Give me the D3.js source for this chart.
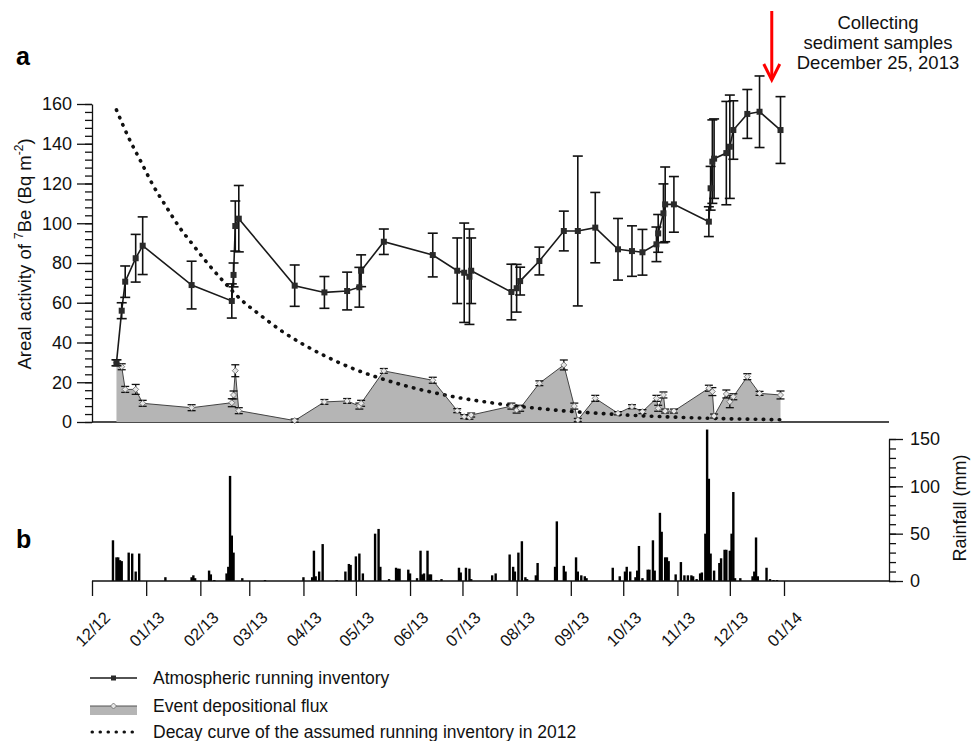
<!DOCTYPE html>
<html>
<head>
<meta charset="utf-8">
<script src="https://cdn.jsdelivr.net/npm/d3@7"></script>
<style>
  body { margin: 0; background: #fff; }
  svg { font-family: Arial, "Liberation Sans", sans-serif; }
</style>
</head>
<body>
<svg id="chart" width="978" height="741"></svg>
<script>
const parse = d3.timeParse("%Y-%m-%d");

// atmospheric running inventory of 7Be (Bq m-2)
const invDates = ["2012-12-15","2012-12-18","2012-12-20","2012-12-26","2012-12-30","2013-01-27","2013-02-19","2013-02-20","2013-02-21","2013-02-23",
  "2013-03-27","2013-04-13","2013-04-26","2013-05-03","2013-05-04","2013-05-17","2013-06-14","2013-06-28","2013-07-02","2013-07-05",
  "2013-07-06","2013-07-29","2013-08-01","2013-08-03","2013-08-14","2013-08-28","2013-09-05","2013-09-15","2013-09-28","2013-10-06",
  "2013-10-12","2013-10-20","2013-10-21","2013-10-24","2013-10-25","2013-10-30","2013-11-19","2013-11-20","2013-11-21","2013-11-22",
  "2013-11-29","2013-12-01","2013-12-03","2013-12-11","2013-12-18","2013-12-30"];
const invValues = [29.8,56,70.6,82.4,88.7,68.9,60.9,74,98.6,102.3,
  68.6,65.2,65.9,67.8,76.1,90.7,84,76.1,75.1,73.1,
  76.1,65.4,67.3,70.9,81,96.1,96.1,97.8,86.9,86,
  85.4,89.4,94.9,105,109.5,109.5,100.8,117.6,131,132.5,
  135.3,138.5,146.9,155,156.1,146.9];
const invErrors = [1.5,4,7.9,12,14.5,12,8.6,6,12.6,16.7,
  10.4,8,9.5,10,8,6.4,11,16.5,25,24,
  16.5,14,12,7,7,10,37.7,17.7,15.5,12.7,
  11.5,8.7,9.5,14.8,18.8,14,7.5,11,21,20,
  26,26,14.7,12.3,18,16.8];

// event depositional flux (Bq m-2)
const fluxDates = ["2012-12-15","2012-12-18","2012-12-20","2012-12-26","2012-12-30","2013-01-27","2013-02-19","2013-02-20","2013-02-21","2013-02-23",
  "2013-03-27","2013-04-13","2013-04-26","2013-05-03","2013-05-04","2013-05-17","2013-06-14","2013-06-28","2013-07-02","2013-07-05",
  "2013-07-06","2013-07-29","2013-08-01","2013-08-03","2013-08-14","2013-08-28","2013-09-03","2013-09-05","2013-09-15","2013-09-28",
  "2013-10-06","2013-10-12","2013-10-20","2013-10-21","2013-10-24","2013-10-25","2013-10-30","2013-11-19","2013-11-21","2013-11-22",
  "2013-11-29","2013-12-01","2013-12-03","2013-12-11","2013-12-18","2013-12-30"];
const fluxValues = [29.8,27.8,16.4,16.4,9.4,7.2,9.7,13.6,25.8,5.7,
  0.7,10.1,10.6,8,9.4,25.7,21,5.7,2.7,2.4,
  3.5,8,6,6.9,19.5,28.7,8,1,11.9,4.4,
  7.7,5.2,11.9,6.9,13.6,5.5,5.5,17,15.3,3,
  14.1,10.2,12.7,22.8,14.4,13.6];
const fluxErrors = [1.5,1.5,1.5,2.5,1.5,1.5,2,2,3,1.5,
  0.8,1.2,1.2,1.5,1.5,1.2,1.5,1,1,1,
  1,1.5,1.5,1.5,1.2,2.5,1.5,0.8,1.5,0.8,
  1,1,1.5,1.5,1.5,1,1,1.5,2,1,
  2,3,1.5,1.5,1,2];

// decay curve of the assumed running inventory in 2012
const decayDates = ["2012-12-15","2012-12-22","2012-12-29","2013-01-05","2013-01-12","2013-01-20","2013-01-27","2013-02-05","2013-02-15","2013-02-25",
  "2013-03-07","2013-03-20","2013-04-01","2013-04-15","2013-05-01","2013-05-15","2013-06-01","2013-06-15","2013-07-01","2013-07-15",
  "2013-08-01","2013-08-15","2013-09-01","2013-09-15","2013-10-01","2013-10-15","2013-11-01","2013-11-15","2013-12-01","2013-12-15","2013-12-30"];
const decayValues = [157,143,131,119,109,98,90,80,70,61,
  54,45.5,39,32.5,26.3,22,17.6,14.7,11.9,10,
  8,6.7,5.3,4.5,3.6,3,2.4,2,1.6,1.4,1.1];

// daily rainfall (mm)
const rainDates = ["2012-12-13","2012-12-15","2012-12-16","2012-12-17","2012-12-18","2012-12-22","2012-12-24","2012-12-26","2012-12-28","2013-01-12",
  "2013-01-27","2013-01-28","2013-01-29","2013-02-06","2013-02-07","2013-02-09","2013-02-16","2013-02-17","2013-02-18","2013-02-19",
  "2013-02-20","2013-02-25","2013-03-10","2013-04-01","2013-04-06","2013-04-07","2013-04-08","2013-04-10","2013-04-12","2013-04-20",
  "2013-04-25","2013-04-27","2013-04-28","2013-05-01","2013-05-03","2013-05-05","2013-05-12","2013-05-14","2013-05-15","2013-05-20",
  "2013-05-24","2013-05-25","2013-05-26","2013-05-31","2013-06-01","2013-06-05","2013-06-07","2013-06-08","2013-06-09","2013-06-11",
  "2013-06-12","2013-06-13","2013-06-16","2013-06-19","2013-06-29","2013-06-30","2013-07-03","2013-07-05","2013-07-06","2013-07-18",
  "2013-07-20","2013-07-28","2013-07-30","2013-07-31","2013-08-02","2013-08-04","2013-08-06","2013-08-07","2013-08-12","2013-08-13",
  "2013-08-23","2013-08-24","2013-08-28","2013-08-29","2013-09-04","2013-09-05","2013-09-07","2013-09-09","2013-09-10","2013-09-25",
  "2013-09-29","2013-10-02","2013-10-03","2013-10-05","2013-10-08","2013-10-09","2013-10-10","2013-10-12","2013-10-15","2013-10-16",
  "2013-10-18","2013-10-19","2013-10-22","2013-10-23","2013-10-25","2013-10-26","2013-10-27","2013-10-31","2013-11-03","2013-11-05",
  "2013-11-07","2013-11-09","2013-11-10","2013-11-12","2013-11-14","2013-11-15","2013-11-17","2013-11-18","2013-11-19","2013-11-20",
  "2013-11-22","2013-11-25","2013-11-26","2013-11-28","2013-11-29","2013-12-01","2013-12-02","2013-12-03","2013-12-04","2013-12-07",
  "2013-12-14","2013-12-15","2013-12-16","2013-12-17","2013-12-22","2013-12-24","2013-12-26","2013-12-28"];
const rainValues = [43,25,25,22,21,30,29,10,29,4,
  4,6,3,11,7,1,8,15,111,48,
  30,3,1,4,4,32,5,10,39,1,
  10,18,17,26,29,8,50,55,15,2,
  14,13,13,12,8,3,32,7,8,32,
  7,7,1,2,14,9,14,13,2,6,
  8,28,15,10,30,42,4,2,6,19,
  15,63,16,10,25,10,6,5,3,14,
  5,10,15,10,4,11,37,3,12,12,
  43,11,72,52,25,25,21,7,20,6,
  6,6,5,2,8,9,50,160,108,29,
  11,19,24,33,33,32,50,94,3,3,
  5,10,46,5,14,2,1,1];

// axis ticks
const monthTicks = ["2012-12-01","2013-01-01","2013-02-01","2013-03-01","2013-04-01","2013-05-01","2013-06-01",
  "2013-07-01","2013-08-01","2013-09-01","2013-10-01","2013-11-01","2013-12-01","2014-01-01"];
const leftTicks = [0,20,40,60,80,100,120,140,160];
const rainTicks = [0,50,100,150];
const sampleDate = "2013-12-25";

const svg = d3.select("#chart");
const FONT = "Arial, 'Liberation Sans', sans-serif";

const x = d3.scaleTime().domain([parse("2012-12-01"), parse("2014-01-01")]).range([92, 784]);
const yA = d3.scaleLinear().domain([0, 160]).range([422, 104]);
const yR = d3.scaleLinear().domain([0, 150]).range([581, 439]);

const inv = invDates.map((d, i) => ({date: parse(d), v: invValues[i], e: invErrors[i]}));
const flux = fluxDates.map((d, i) => ({date: parse(d), v: fluxValues[i], e: fluxErrors[i]}));
const decay = decayDates.map((d, i) => ({date: parse(d), v: decayValues[i]}));
const rain = rainDates.map((d, i) => ({date: parse(d), v: rainValues[i]}));

// panel letters
svg.append("text").attr("x", 16).attr("y", 65).attr("font-size", 25).attr("font-weight", "bold").text("a");
svg.append("text").attr("x", 16).attr("y", 548).attr("font-size", 25).attr("font-weight", "bold").text("b");

// ---- panel a: left axis
const gMinor = svg.append("g").attr("transform", "translate(92,0)")
  .call(d3.axisLeft(yA).tickValues(d3.range(0, 161, 4)).tickSize(7).tickSizeOuter(0).tickFormat(""));
gMinor.select(".domain").remove();
const gLeft = svg.append("g").attr("transform", "translate(92,0)")
  .call(d3.axisLeft(yA).tickValues(leftTicks).tickSize(15).tickSizeOuter(0).tickPadding(5));
gLeft.selectAll("text").attr("font-size", 18).attr("fill", "#111").attr("font-family", FONT);

// baseline of panel a
svg.append("line").attr("x1", 92).attr("x2", 889).attr("y1", yA(0)).attr("y2", yA(0))
  .attr("stroke", "#111").attr("stroke-width", 1.3);

// y title
const yt = svg.append("text").attr("transform", "translate(31,254) rotate(-90)")
  .attr("text-anchor", "middle").attr("font-size", 18.5).attr("fill", "#111");
yt.append("tspan").text("Areal activity of ");
yt.append("tspan").attr("font-size", 12).attr("dy", -8).text("7");
yt.append("tspan").attr("dy", 8).text("Be (Bq m");
yt.append("tspan").attr("font-size", 12).attr("dy", -8).text("-2");
yt.append("tspan").attr("dy", 8).text(")");

// event depositional flux area
svg.append("path").datum(flux)
  .attr("d", d3.area().x(d => x(d.date)).y0(yA(0)).y1(d => yA(d.v)))
  .attr("fill", "#b5b5b5");

// decay curve
svg.append("path").datum(decay)
  .attr("d", d3.line().curve(d3.curveMonotoneX).x(d => x(d.date)).y(d => yA(d.v)))
  .attr("fill", "none").attr("stroke", "#111").attr("stroke-width", 3.6)
  .attr("stroke-linecap", "round").attr("stroke-dasharray", "0.5 7.5");

// flux line, error bars and diamonds
svg.append("path").datum(flux)
  .attr("d", d3.line().x(d => x(d.date)).y(d => yA(d.v)))
  .attr("fill", "none").attr("stroke", "#444").attr("stroke-width", 1);

function errorBars(data, cap, width) {
  const g = svg.append("g").attr("stroke", "#111").attr("stroke-width", width).attr("fill", "none");
  const gs = g.selectAll("g").data(data).join("g");
  gs.append("line").attr("x1", d => x(d.date)).attr("x2", d => x(d.date))
    .attr("y1", d => yA(d.v - d.e)).attr("y2", d => yA(d.v + d.e));
  gs.append("line").attr("x1", d => x(d.date) - cap).attr("x2", d => x(d.date) + cap)
    .attr("y1", d => yA(d.v + d.e)).attr("y2", d => yA(d.v + d.e));
  gs.append("line").attr("x1", d => x(d.date) - cap).attr("x2", d => x(d.date) + cap)
    .attr("y1", d => yA(d.v - d.e)).attr("y2", d => yA(d.v - d.e));
}
errorBars(flux, 4, 1.3);

svg.append("g").selectAll("path").data(flux).join("path")
  .attr("transform", d => `translate(${x(d.date)},${yA(d.v)})`)
  .attr("d", "M0,-3L3,0L0,3L-3,0Z")
  .attr("fill", "#e6e6e6").attr("stroke", "#666").attr("stroke-width", 0.8);

// atmospheric running inventory
svg.append("path").datum(inv)
  .attr("d", d3.line().x(d => x(d.date)).y(d => yA(d.v)))
  .attr("fill", "none").attr("stroke", "#1a1a1a").attr("stroke-width", 1.6);
errorBars(inv, 5, 1.6);
svg.append("g").selectAll("rect").data(inv).join("rect")
  .attr("x", d => x(d.date) - 3).attr("y", d => yA(d.v) - 3)
  .attr("width", 6).attr("height", 6).attr("fill", "#2a2a2a");

// sampling arrow and note
const ax = x(parse(sampleDate));
svg.append("line").attr("x1", ax).attr("x2", ax).attr("y1", 11).attr("y2", 79)
  .attr("stroke", "#f00").attr("stroke-width", 3);
svg.append("path").attr("d", `M${ax - 8},64L${ax},80L${ax + 8},64`)
  .attr("fill", "none").attr("stroke", "#f00").attr("stroke-width", 3);
const note = svg.append("text").attr("text-anchor", "middle").attr("font-size", 18.5).attr("fill", "#111");
["Collecting", "sediment samples", "December 25, 2013"].forEach((t, i) =>
  note.append("tspan").attr("x", 878).attr("y", 29 + i * 20).text(t));

// ---- panel b: rainfall bars
svg.append("g").selectAll("rect").data(rain).join("rect")
  .attr("x", d => x(d.date) - 1.2).attr("width", 2.4)
  .attr("y", d => yR(d.v)).attr("height", d => yR(0) - yR(d.v))
  .attr("fill", "#000");

// bottom axis
const gx = svg.append("g").attr("transform", `translate(0,${yR(0)})`)
  .call(d3.axisBottom(x).tickValues(monthTicks.map(parse)).tickSize(15).tickFormat(d3.timeFormat("%m/%y")));
gx.select(".domain").remove();
gx.selectAll("text").attr("y", 0).attr("dy", 0)
  .attr("transform", "translate(0,48) rotate(-45)")
  .attr("text-anchor", "middle").attr("dominant-baseline", "central")
  .attr("font-size", 16.5).attr("fill", "#111").attr("font-family", FONT);
svg.append("line").attr("x1", 92).attr("x2", 889).attr("y1", yR(0)).attr("y2", yR(0))
  .attr("stroke", "#111").attr("stroke-width", 1.3);

// right axis
const gRMinor = svg.append("g").attr("transform", "translate(889,0)")
  .call(d3.axisRight(yR).tickValues(d3.range(0, 151, 10)).tickSize(7).tickSizeOuter(0).tickFormat(""));
gRMinor.select(".domain").remove();
const gRight = svg.append("g").attr("transform", "translate(889,0)")
  .call(d3.axisRight(yR).tickValues(rainTicks).tickSize(14).tickSizeOuter(0).tickPadding(7));
gRight.selectAll("text").attr("font-size", 18).attr("fill", "#111").attr("font-family", FONT);
svg.selectAll(".tick line, .domain").attr("stroke", "#111").attr("stroke-width", 1.3);
svg.append("text").attr("transform", "translate(966,508) rotate(-90)")
  .attr("text-anchor", "middle").attr("font-size", 18).attr("fill", "#111").text("Rainfall (mm)");

// ---- legend
const leg = svg.append("g");
const rows = [678, 706, 732];
leg.append("line").attr("x1", 90).attr("x2", 137).attr("y1", rows[0]).attr("y2", rows[0])
  .attr("stroke", "#1a1a1a").attr("stroke-width", 1.6);
leg.append("rect").attr("x", 111).attr("y", rows[0] - 2.5).attr("width", 5).attr("height", 5).attr("fill", "#2a2a2a");
leg.append("rect").attr("x", 90).attr("y", rows[1]).attr("width", 47).attr("height", 9).attr("fill", "#b5b5b5");
leg.append("line").attr("x1", 90).attr("x2", 137).attr("y1", rows[1]).attr("y2", rows[1])
  .attr("stroke", "#555").attr("stroke-width", 1);
leg.append("path").attr("transform", `translate(113.5,${rows[1]})`).attr("d", "M0,-3L3,0L0,3L-3,0Z")
  .attr("fill", "#e6e6e6").attr("stroke", "#666").attr("stroke-width", 0.8);
leg.append("line").attr("x1", 92).attr("x2", 138).attr("y1", rows[2]).attr("y2", rows[2])
  .attr("stroke", "#111").attr("stroke-width", 3).attr("stroke-linecap", "round").attr("stroke-dasharray", "0.5 7.5");
["Atmospheric running inventory", "Event depositional flux", "Decay curve of the assumed running inventory in 2012"]
  .forEach((t, i) => leg.append("text").attr("x", 153).attr("y", rows[i] + 6)
    .attr("font-size", 17.5).attr("fill", "#111").text(t));
</script>
</body>
</html>
